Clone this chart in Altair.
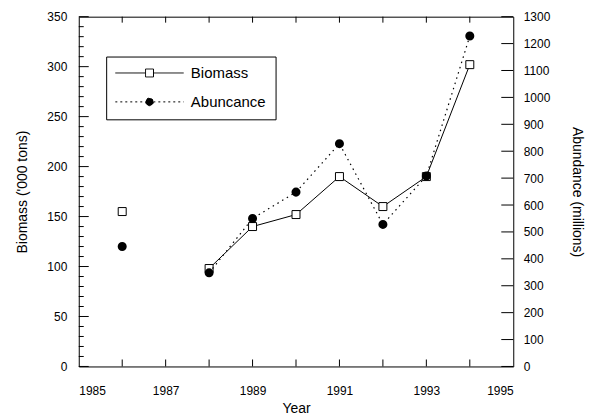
import altair as alt
import pandas as pd

years = [1986, 1988, 1989, 1990, 1991, 1992, 1993, 1994]
biomass = [155, 98, 140, 152, 190, 160, 190, 302]
abundance = [446, 348, 550, 648, 828, 528, 708, 1228]
series_names = ["Biomass", "Abuncance"]

x_labels = [1985, 1987, 1989, 1991, 1993, 1995]
left_labels = [0, 50, 100, 150, 200, 250, 300, 350]
left_minor = [v for v in range(0, 351, 10) if v % 50]
right_labels = list(range(0, 1301, 100))
year_ticks = list(range(1986, 1995))

df = pd.DataFrame({"year": years, "biomass": biomass, "abundance": abundance})
lmaj = pd.DataFrame({"v": left_labels})
lmin = pd.DataFrame({"v": left_minor})
rt = pd.DataFrame({"v": right_labels})
yt = pd.DataFrame({"yr": year_ticks})
leg = pd.DataFrame({"series": series_names})

W, H = 436, 351
FONT = "Liberation Sans"

xscale = alt.Scale(domain=[1985, 1995], nice=False, zero=False)
xaxis = alt.Axis(values=x_labels, format="d", title="Year", ticks=False, domain=False,
                 grid=False, labelPadding=19, titlePadding=5)

def X(field):
    return alt.X(field, type="quantitative", scale=xscale, axis=xaxis)

lscale = alt.Scale(domain=[0, 350], nice=False)
laxis = alt.Axis(values=left_labels, title="Biomass ('000 tons)", ticks=False, domain=False,
                 grid=False, labelPadding=12, titlePadding=17, orient="left", format="d")
rscale = alt.Scale(domain=[0, 1300], nice=False)
raxis = alt.Axis(values=right_labels, title="Abundance (millions)", ticks=False, domain=False,
                 grid=False, labelPadding=10, titlePadding=20, orient="right", format="d")

def YL(field):
    return alt.Y(field, type="quantitative", scale=lscale, axis=laxis)

def YR(field):
    return alt.Y(field, type="quantitative", scale=rscale, axis=raxis)

path_b = "M-4.9,0H-0.57M0.57,0H4.9M-0.57,-0.57H0.57V0.57H-0.57Z"
path_a = "M-4.9,0H-0.55M0.55,0H4.9M0.55,0A0.55,0.55,0,1,1,-0.55,0A0.55,0.55,0,1,1,0.55,0Z"

legend = alt.Legend(
    orient="none", legendX=27.5, legendY=40, title=None, strokeColor="black",
    padding=9, symbolSize=196, labelFontSize=15, labelFont=FONT, rowPadding=13,
    symbolStrokeWidth=1, symbolStrokeColor="black", symbolOpacity=1,
    symbolOffset=27, labelOffset=34, labelColor="black",
    labelExpr="datum.label + '   '",
)

# invisible layer that only carries the legend
leg_layer = alt.Chart(leg).mark_point(filled=True, opacity=0).encode(
    shape=alt.Shape("series:N", scale=alt.Scale(domain=series_names, range=[path_b, path_a]),
                    legend=legend),
    fill=alt.Fill("series:N", scale=alt.Scale(domain=series_names, range=["white", "black"]),
                  legend=legend),
    stroke=alt.Stroke("series:N", scale=alt.Scale(domain=series_names, range=["black", "black"]),
                      legend=legend),
    strokeDash=alt.StrokeDash("series:N", scale=alt.Scale(domain=series_names, range=[[1, 0], [2, 3]]),
                              legend=legend),
)

base = alt.Chart(df)

b_line = base.transform_filter("datum.year > 1986").mark_line(color="black", strokeWidth=1).encode(
    x=X("year"), y=YL("biomass"))
b_pts = base.mark_point(shape="square", filled=False, fill="white", stroke="black",
                        strokeWidth=1, size=64, opacity=1).encode(x=X("year"), y=YL("biomass"))
l_major = alt.Chart(lmaj).mark_rule(color="black", strokeWidth=1).encode(
    y=YL("v"), x=alt.value(0), x2=alt.value(10))
l_minor = alt.Chart(lmin).mark_rule(color="black", strokeWidth=1).encode(
    y=YL("v"), x=alt.value(0), x2=alt.value(5))
b_tick = alt.Chart(yt).mark_rule(color="black", strokeWidth=1).encode(
    x=X("yr"), y=alt.value(H), y2=alt.value(H - 7))
t_tick = alt.Chart(yt).mark_rule(color="black", strokeWidth=1).encode(
    x=X("yr"), y=alt.value(0), y2=alt.value(6))

left = alt.layer(l_major, l_minor, b_tick, t_tick, b_line, b_pts, leg_layer)

a_line = base.transform_filter("datum.year > 1986").mark_line(
    color="black", strokeWidth=1.2, strokeDash=[1.5, 4]).encode(x=X("year"), y=YR("abundance"))
a_pts = base.mark_point(shape="circle", filled=True, fill="black", stroke="black",
                        size=50, opacity=1).encode(x=X("year"), y=YR("abundance"))
r_tick = alt.Chart(rt).mark_rule(color="black", strokeWidth=1).encode(
    y=YR("v"), x=alt.value(W - 12), x2=alt.value(W))

right = alt.layer(r_tick, a_line, a_pts)

chart = alt.layer(left, right).resolve_scale(y="independent").properties(
    width=W, height=H,
    padding={"left": 7, "top": 2, "right": 2, "bottom": 0},
).configure_view(stroke="black", strokeWidth=1).configure_axis(
    labelFont=FONT, titleFont=FONT, labelFontSize=12, titleFontSize=14,
    titleFontWeight="normal", labelColor="black", titleColor="black"
)

chart.save("out.html", embed_options={"renderer": "svg", "actions": False})
